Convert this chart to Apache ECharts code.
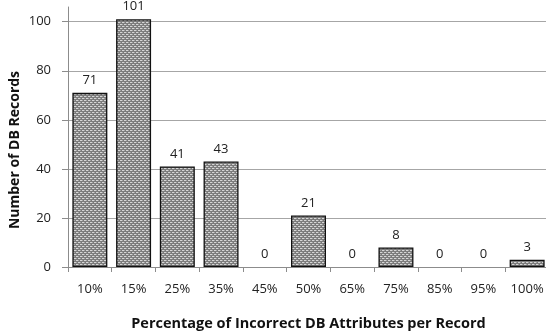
<!DOCTYPE html>
<html>
<head>
<meta charset="utf-8">
<script src="https://cdn.jsdelivr.net/npm/echarts@6/dist/echarts.min.js"></script>
<style>
  html, body { margin: 0; padding: 0; background: #fff; }
  #chart { width: 546px; height: 334px; }
</style>
</head>
<body>
<div id="chart"></div>
<script>
// Share of incorrect attributes per record and how many records fall in each bucket
const categories = ['10%', '15%', '25%', '35%', '45%', '50%', '65%', '75%', '85%', '95%', '100%'];
const recordCounts = [71, 101, 41, 43, 0, 21, 0, 8, 0, 0, 3];
const yTicks = [0, 20, 40, 60, 80, 100];
const yAxisTop = 106;

// Small dotted fill for the bars
function makePattern() {
  const c = document.createElement('canvas');
  c.width = 4; c.height = 4;
  const g = c.getContext('2d');
  g.fillStyle = '#7c7c7c';
  g.fillRect(0, 0, 4, 4);
  g.fillStyle = '#d6d6d6';
  g.fillRect(0, 0, 2, 1);
  g.fillRect(2, 2, 2, 1);
  g.fillStyle = '#a4a4a4';
  g.fillRect(2, 0, 1, 1);
  g.fillRect(0, 2, 1, 1);
  return c;
}

const font = '"Open Sans", "Liberation Sans", Arial, sans-serif';
const barFill = { image: makePattern(), repeat: 'repeat' };

// Empty buckets get no outline, only their "0" label
const barData = recordCounts.map(v => ({
  value: v,
  itemStyle: v === 0 ? { borderWidth: 0 } : undefined
}));

const chart = echarts.init(document.getElementById('chart'), null, { renderer: 'canvas' });
chart.setOption({
  animation: false,
  grid: { left: 68, right: -3, top: 7, bottom: 67, containLabel: false, outerBoundsMode: 'none' },
  xAxis: {
    type: 'category',
    data: categories,
    name: 'Percentage of Incorrect DB Attributes per Record',
    nameLocation: 'middle',
    nameGap: 49,
    nameMoveOverlap: false,
    nameTextStyle: { fontFamily: font, fontWeight: 'bold', fontSize: 14.5, color: '#111' },
    axisLine: { lineStyle: { color: '#8c8c8c', width: 1 } },
    axisTick: { show: true, length: 5, alignWithLabel: false, lineStyle: { color: '#8c8c8c' } },
    axisLabel: { interval: 0, fontFamily: font, fontSize: 13, color: '#222', margin: 16 }
  },
  yAxis: {
    type: 'value',
    min: yTicks[0],
    max: yAxisTop,
    interval: 20,
    name: 'Number of DB Records',
    nameLocation: 'middle',
    nameGap: 46,
    nameMoveOverlap: false,
    nameTextStyle: { fontFamily: font, fontWeight: 'bold', fontSize: 14, color: '#111', padding: [0, 26, 0, 0] },
    axisLine: { show: true, lineStyle: { color: '#8c8c8c', width: 1 } },
    axisTick: { show: true, length: 6, lineStyle: { color: '#8c8c8c' } },
    splitLine: { show: true, showMaxLine: false, lineStyle: { color: '#a6a6a6', width: 1 } },
    axisLabel: {
      fontFamily: font, fontSize: 13, color: '#222', margin: 17,
      showMaxLabel: false,
      formatter: v => (yTicks.indexOf(v) >= 0 ? String(v) : '')
    }
  },
  series: [{
    type: 'bar',
    data: barData,
    barCategoryGap: '20%',
    itemStyle: {
      color: barFill,
      borderColor: '#111',
      borderWidth: 1.3
    },
    label: {
      show: true,
      position: 'top',
      distance: 6,
      fontFamily: font,
      fontSize: 13,
      color: '#222'
    }
  }]
});
</script>
</body>
</html>
